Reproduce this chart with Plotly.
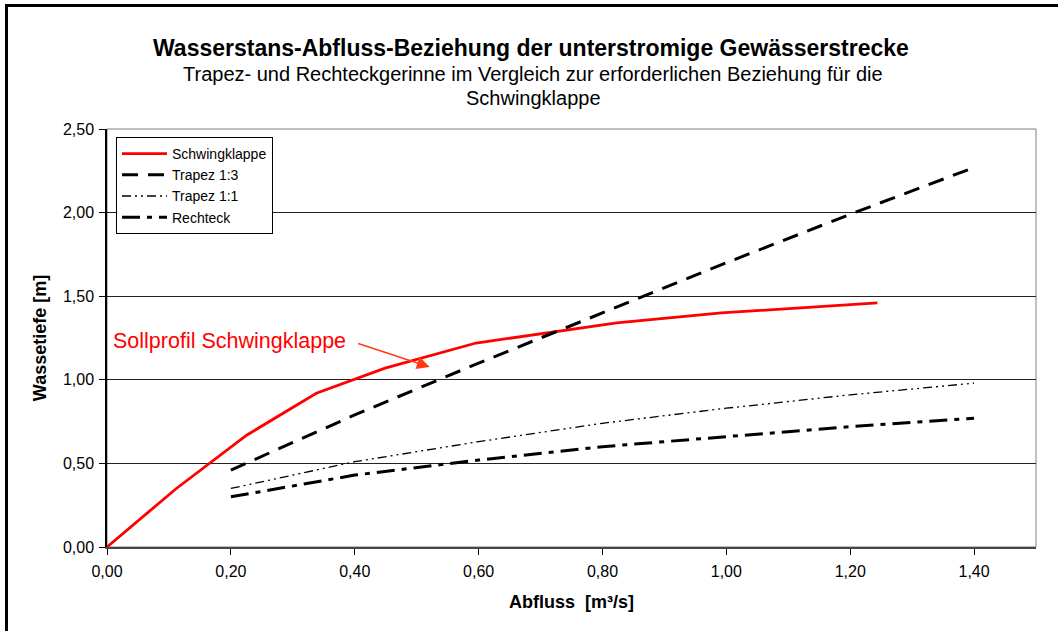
import plotly.graph_objects as go

# Abfluss [m³/s] und Wassertiefe [m]
schwing_q = [0.0, 0.112, 0.226, 0.338, 0.449, 0.596, 0.823, 0.992, 1.244]
schwing_h = [0.0, 0.35, 0.67, 0.92, 1.07, 1.22, 1.34, 1.40, 1.46]

profil_q = [0.2, 0.4, 0.6, 0.8, 1.0, 1.2, 1.4]
trapez13_h = [0.46, 0.79, 1.10, 1.40, 1.70, 1.99, 2.27]
trapez11_h = [0.35, 0.51, 0.63, 0.74, 0.83, 0.91, 0.98]
rechteck_h = [0.30, 0.43, 0.52, 0.60, 0.66, 0.72, 0.77]

x_ticks = [0.0, 0.2, 0.4, 0.6, 0.8, 1.0, 1.2, 1.4]
y_ticks = [0.0, 0.5, 1.0, 1.5, 2.0, 2.5]

W, H = 1058, 631
L, R, T, B = 107, 22, 129, 84
PW, PH = W - L - R, H - T - B


def px(x):
    return (x - L) / PW


def py(y):
    return (H - B - y) / PH


FONT = "Arial, 'Liberation Sans', sans-serif"

fig = go.Figure()
fig.add_trace(go.Scatter(x=schwing_q, y=schwing_h, mode="lines", name="Schwingklappe",
                         line=dict(color="#FF0000", width=2.8)))
fig.add_trace(go.Scatter(x=profil_q, y=trapez13_h, mode="lines", name="Trapez 1:3",
                         line=dict(color="black", width=3, dash="16px,10px")))
fig.add_trace(go.Scatter(x=profil_q, y=trapez11_h, mode="lines", name="Trapez 1:1",
                         line=dict(color="black", width=1.3, dash="9px,4px,2px,4px,2px,4px")))
fig.add_trace(go.Scatter(x=profil_q, y=rechteck_h, mode="lines", name="Rechteck",
                         line=dict(color="black", width=3, dash="18px,7px,5px,7px")))

# Diagrammrahmen (links und oben sichtbar) und Rand der Zeichenfläche
fig.add_shape(type="rect", xref="paper", yref="paper",
              x0=px(6.5), x1=px(W + 20), y0=py(H + 20), y1=py(5.5),
              line=dict(color="black", width=3), layer="below")
fig.add_shape(type="rect", xref="paper", yref="paper", x0=0, x1=1, y0=0, y1=1,
              line=dict(color="#808080", width=1), layer="below")

annotations = [
    dict(text="<b>Wasserstans-Abfluss-Beziehung der unterstromige Gewässerstrecke</b>",
         x=px(531), y=py(48), font=dict(size=23, color="black")),
    dict(text="Trapez- und Rechteckgerinne im Vergleich zur erforderlichen Beziehung für die",
         x=px(533), y=py(74), font=dict(size=20, color="black")),
    dict(text="Schwingklappe", x=px(533), y=py(98), font=dict(size=20, color="black")),
    dict(text="Sollprofil Schwingklappe", x=px(229), y=py(341),
         font=dict(size=21.5, color="#FF0000")),
]
for a in annotations:
    a.update(xref="paper", yref="paper", showarrow=False, xanchor="center", yanchor="middle")
    fig.add_annotation(**a)

# Pfeil zur Sollkurve
fig.add_annotation(x=0.521, y=1.077, xref="x", yref="y", ax=-73, ay=-24,
                   axref="pixel", ayref="pixel", text="", showarrow=True,
                   arrowhead=2, arrowsize=1.6, arrowwidth=1.6, arrowcolor="#FF3B12",
                   standoff=0)

fig.update_layout(
    width=W, height=H,
    margin=dict(l=L, r=R, t=T, b=B, pad=0),
    paper_bgcolor="white", plot_bgcolor="white",
    font=dict(family=FONT, color="black"),
    separators=",.",
    showlegend=True,
    legend=dict(x=px(116), y=py(137), xanchor="left", yanchor="top",
                bgcolor="white", bordercolor="black", borderwidth=1,
                font=dict(size=14, family=FONT), tracegroupgap=0,
                itemwidth=45),
    xaxis=dict(range=[0, 1.5], tickvals=x_ticks, tickformat=".2f",
               showgrid=False, zeroline=False, showline=True, linecolor="#444",
               linewidth=1.5, ticks="outside", ticklen=6, tickcolor="black",
               ticklabelstandoff=3,
               tickfont=dict(size=16), title=dict(text="<b>Abfluss  [m³/s]</b>",
                                                  font=dict(size=18), standoff=16)),
    yaxis=dict(range=[0, 2.5], tickvals=y_ticks, tickformat=".2f",
               showgrid=True, gridcolor="#222", gridwidth=1, zeroline=False,
               showline=True, linecolor="black", linewidth=1.5, ticks="outside",
               ticklen=6, tickcolor="black", tickfont=dict(size=16),
               ticklabelstandoff=2,
               title=dict(text="<b>Wassetiefe [m]</b>", font=dict(size=18), standoff=12)),
)

fig.write_html("out.html")
